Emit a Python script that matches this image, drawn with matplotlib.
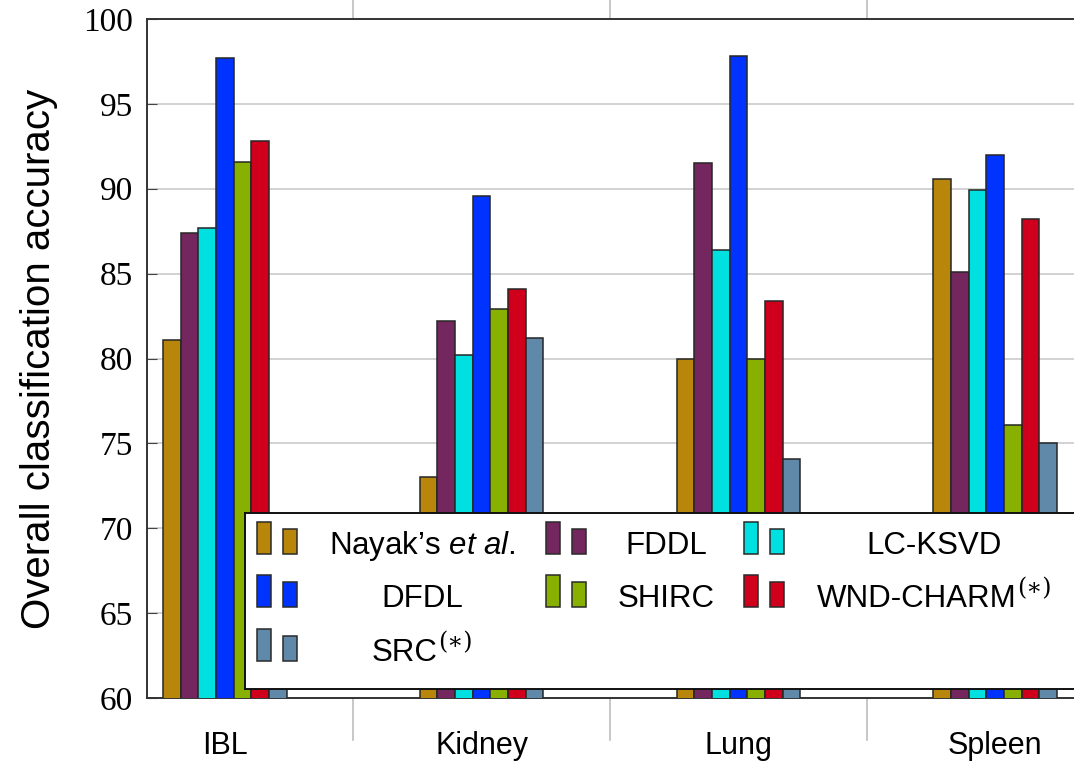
import matplotlib
matplotlib.use("Agg")
import matplotlib.pyplot as plt
from matplotlib.patches import Rectangle
import numpy as np

plt.rcParams["mathtext.fontset"] = "custom"
plt.rcParams["mathtext.rm"] = "Liberation Sans"
plt.rcParams["mathtext.it"] = "Liberation Sans:italic"

# ── Data ─────────────────────────────────────────────────────────────────────
categories = ["IBL", "Kidney", "Lung", "Spleen"]
methods = [
    "Nayak\u2019s $\\mathit{et\\ al.}$",
    "FDDL",
    "LC-KSVD",
    "DFDL",
    "SHIRC",
    "WND-CHARM",
    "SRC",
]
marked = [False, False, False, False, False, True, True]  # "(*)" superscript
nayak = [81.1, 73.0, 80.0, 90.6]
fddl = [87.4, 82.2, 91.5, 85.1]
lcksvd = [87.7, 80.2, 86.4, 89.9]
dfdl = [97.7, 89.6, 97.8, 92.0]
shirc = [91.6, 82.9, 80.0, 76.1]
wndcharm = [92.8, 84.1, 83.4, 88.2]
src = [68.0, 81.2, 74.1, 75.0]
series = [nayak, fddl, lcksvd, dfdl, shirc, wndcharm, src]

colors = ["#b8860b", "#74275f", "#00e0e0", "#0033ff",
          "#88b000", "#d0001c", "#6088a8"]

W, H = 1074, 767
fig = plt.figure(figsize=(W / 100, H / 100), dpi=100)
fig.patch.set_facecolor("white")

ax_l, ax_r, ax_t, ax_b = 147, 1080, 19, 698
ax = fig.add_axes([ax_l / W, 1 - ax_b / H, (ax_r - ax_l) / W, (ax_b - ax_t) / H])

x = np.arange(len(categories))
bw = 0.0688
for i, (vals, c) in enumerate(zip(series, colors)):
    ax.bar(x + (i - 3) * bw, vals, width=bw, color=c, edgecolor="#262626",
           linewidth=1.1, zorder=3)

ax.set_xlim(-0.303, 3.33)
ax.set_ylim(60, 100)
ax.set_yticks(np.arange(60, 101, 5))
ax.grid(axis="y", color="#cfcfcf", linewidth=1.3, zorder=0)
ax.set_axisbelow(True)

ax.set_xticks(x)
ax.set_xticklabels(categories, family="Liberation Sans", fontsize=22)
ax.tick_params(axis="x", length=0, pad=24)
ax.tick_params(axis="y", direction="in", length=7, color="#444444",
               labelsize=24, pad=10)
for lab in ax.get_yticklabels():
    lab.set_family("Liberation Serif")

for s in ["left", "bottom", "top"]:
    ax.spines[s].set_color("#333333")
    ax.spines[s].set_linewidth(1.4)
ax.spines["right"].set_visible(False)

ax.set_ylabel("Overall classification accuracy", family="Liberation Sans",
              fontsize=29, labelpad=18)

# separators between groups, drawn outside the plot area
trans = ax.get_xaxis_transform()
for b in x[:-1] + 0.5:
    ax.plot([b, b], [-42 / 679, 0], transform=trans, color="#bdbdbd",
            linewidth=1.2, clip_on=False)
    ax.plot([b, b], [1, 1 + 19 / 679], transform=trans, color="#bdbdbd",
            linewidth=1.2, clip_on=False)

# ── Legend (pgfplots style, drawn by hand) ─────────────────────────────────
lg_l, lg_r, lg_t, lg_b = 245, 1082, 513, 689
lax = fig.add_axes([lg_l / W, 1 - lg_b / H, (lg_r - lg_l) / W, (lg_b - lg_t) / H])
lax.set_xlim(0, lg_r - lg_l)
lax.set_ylim(lg_b - lg_t, 0)
lax.set_xticks([])
lax.set_yticks([])
for s in lax.spines.values():
    s.set_color("#111111")
    s.set_linewidth(1.4)

row_base = [41, 94, 148]
col_icon = [12, 301, 499]
col_text = [177, 421, 689]
for k, (name, c, star) in enumerate(zip(methods, colors, marked)):
    r, cidx = divmod(k, 3)
    by = row_base[r]
    ix = col_icon[cidx]
    lax.add_patch(Rectangle((ix, by - 32), 14, 32, facecolor=c,
                            edgecolor="#2a2a2a", linewidth=1.1))
    lax.add_patch(Rectangle((ix + 26, by - 25), 14, 25, facecolor=c,
                            edgecolor="#2a2a2a", linewidth=1.1))
    cx = col_text[cidx] - (17 if star else 0)
    t = lax.text(cx, by, name, ha="center", va="baseline",
                 family="Liberation Sans", fontsize=22.5)
    if star:
        lax.annotate("(\u2217)", xy=(1, 1), xycoords=t, xytext=(0, 5),
                     textcoords="offset points", ha="left", va="top",
                     family="DejaVu Serif", fontsize=17)

fig.savefig("out.png", dpi=100, facecolor="white")
